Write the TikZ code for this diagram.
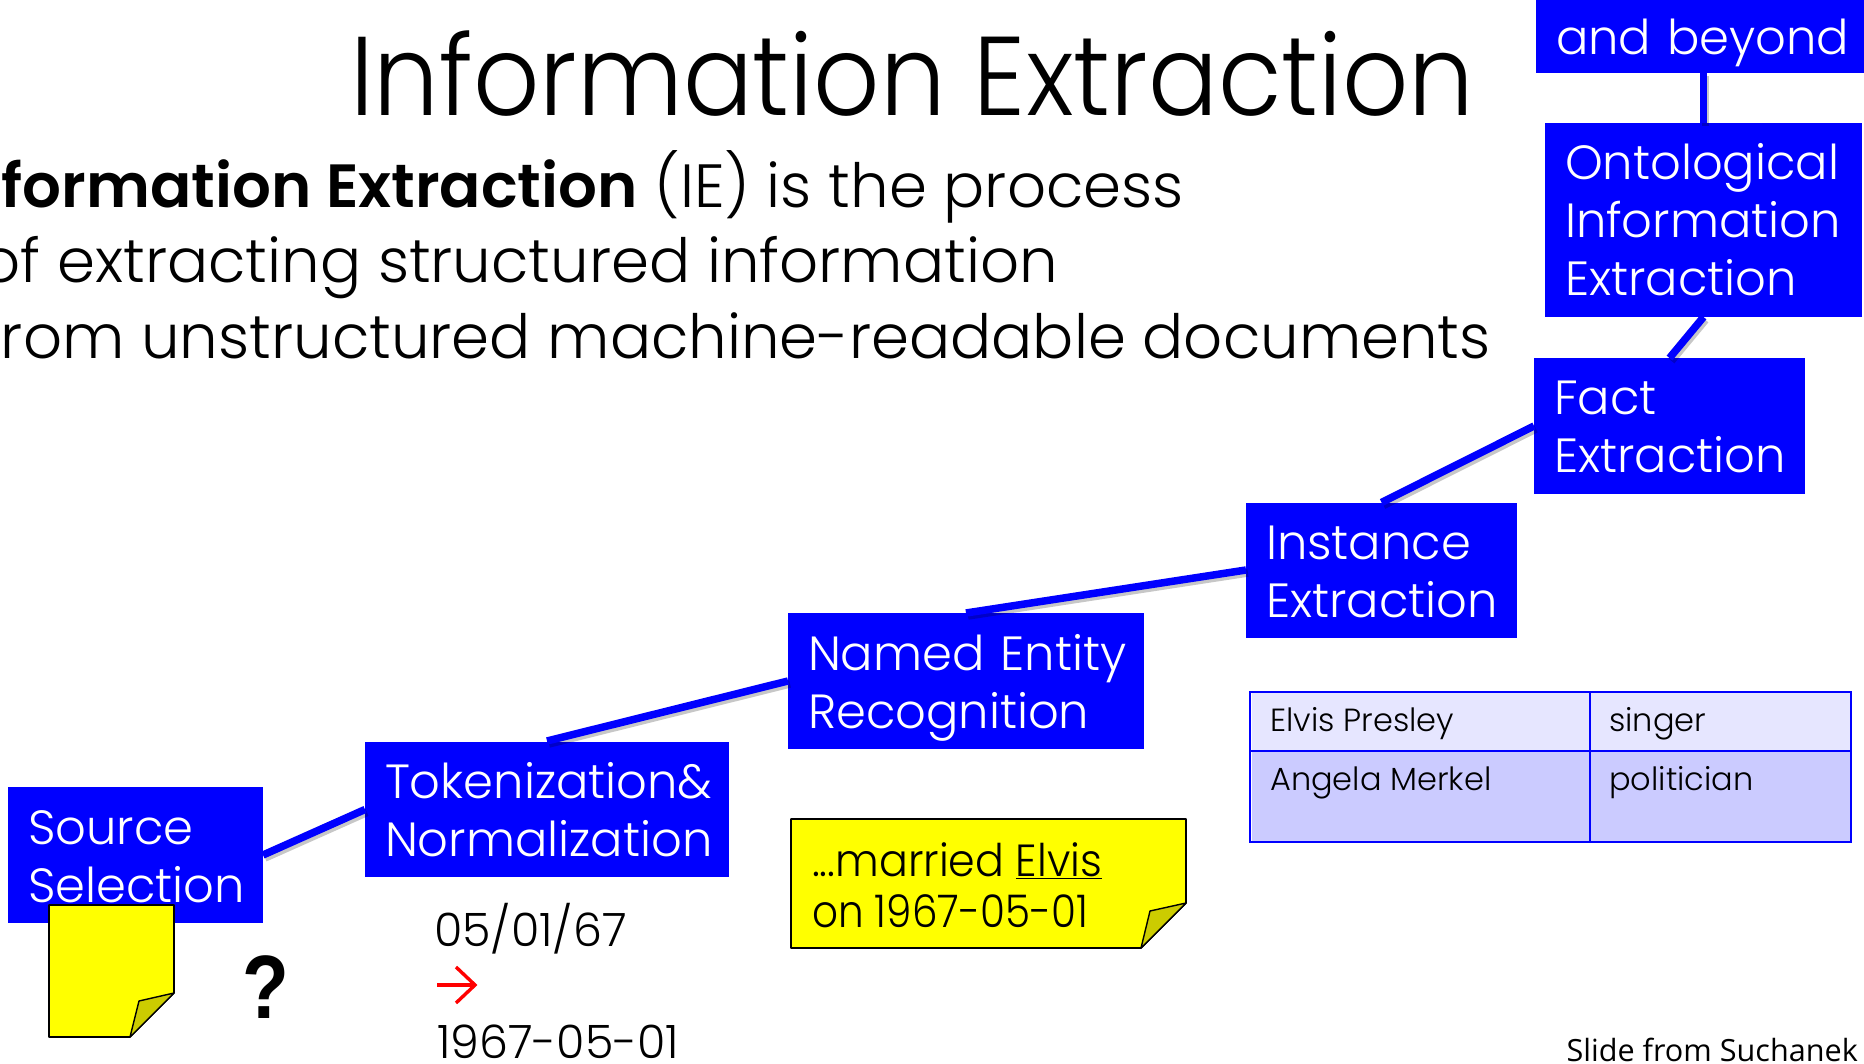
\documentclass[tikz,border=0pt]{standalone}
\usepackage{fontspec}
\setmainfont[BoldFont={Poppins SemiBold}]{Poppins Light}
\newfontfamily\headfont[FakeStretch=0.925]{Poppins Light}
\newfontfamily\notefont[FakeStretch=0.95]{Poppins Light}
\newfontfamily\notedate[FakeStretch=0.90]{Poppins Light}
\newfontfamily\slidefont{Open Sans}
\newfontfamily\qfont{Liberation Sans}
\newcommand\bl[1]{\rule{0pt}{36pt}\smash{#1}}
\definecolor{bb}{HTML}{0000FF}
\definecolor{yel}{HTML}{FFFF00}
\definecolor{fold}{HTML}{CCCC00}
\definecolor{rowa}{HTML}{E6E6FF}
\definecolor{rowb}{HTML}{CBCBFF}
\tikzset{
  x=1pt,y=-1pt,
  stagebox/.style={fill=bb,text=white,align=left,inner xsep=20pt,inner ysep=0pt,outer sep=0pt,
    font=\fontsize{48}{58}\selectfont},
  link/.style={draw=bb,line width=7.5pt,preaction={draw=black,opacity=.22,line width=7.5pt,transform canvas={shift={(2,3)}}}},
  note/.style={draw=black,line width=1.6pt,fill=yel,line join=round},
  notefold/.style={draw=black,line width=1.4pt,fill=fold,line join=round},
  headline/.style={anchor=base west,inner sep=0pt,font=\headfont\fontsize{112}{130}\selectfont},
  bodyline/.style={anchor=base east,inner sep=0pt,font=\fontsize{61}{76}\selectfont},
  dateline/.style={anchor=base west,inner sep=0pt,font=\fontsize{46}{52}\selectfont},
  noteline/.style={anchor=base west,inner sep=0pt,font=\notefont\fontsize{45}{52}\selectfont},
  cell/.style={anchor=base west,inner sep=0pt,font=\fontsize{32}{36}\selectfont},
  tabrule/.style={draw=bb,line width=2.4pt},
}
\begin{document}
\begin{tikzpicture}
\useasboundingbox (0,0) rectangle (1864,1064);
\fill[white] (0,0) rectangle (1864,1064);

\node[headline] (title) at (350,116) {Information Extraction};
\node[bodyline] (l1) at (1184,208) {\textbf{Information Extraction} (IE) is the process};
\node[bodyline] (l2) at (1058,283) {of extracting structured information};
\node[bodyline] (l3) at (1491,359) {from unstructured machine-readable documents};

\node[stagebox,minimum width=328pt,minimum height=73pt,text width=288pt] (beyond) at (1700,36.5) {\bl{and beyond}};
\node[stagebox,minimum width=317pt,minimum height=194pt,text width=277pt] (onto) at (1703.5,220) {\bl{Ontological}\\\bl{Information}\\\bl{Extraction}};
\node[stagebox,minimum width=271pt,minimum height=136pt,text width=231pt] (fact) at (1669.5,426) {\bl{Fact}\\\bl{Extraction}};
\node[stagebox,minimum width=271pt,minimum height=135pt,text width=231pt] (inst) at (1381.5,570) {\bl{Instance}\\\bl{Extraction}};
\node[stagebox,minimum width=356pt,minimum height=136pt,text width=316pt] (ner) at (966,681) {\bl{Named Entity}\\\bl{Recognition}};
\node[stagebox,minimum width=364pt,minimum height=135pt,text width=324pt] (tok) at (547,809.5) {\bl{Tokenization\&}\\\bl{Normalization}};
\node[stagebox,minimum width=255pt,minimum height=136pt,text width=215pt] (src) at (135.5,855) {\bl{Source}\\\bl{Selection}};

\draw[link] (src.east) -- (tok.west);
\draw[link] (tok.north) ++(0,-1) -- (ner.west);
\draw[link] (ner.north) -- (inst.west);
\draw[link] (inst.north) -- (fact.west);
\draw[link] (fact.north) -- (onto.south);
\draw[link] (onto.north) -- (onto.north |- beyond.south);

% source note
\draw[note] (49,905) -- (174,905) -- (174,993) -- (130,1037) -- (49,1037) -- cycle;
\draw[notefold] (174,993) -- (139,1001) -- (130,1037) -- cycle;

% question mark
\node[inner sep=0pt,xscale=.85,font=\qfont\bfseries\fontsize{90}{90}\selectfont] (q) at (266,987) {?};

% date
\node[dateline] (d1) at (434,946) {05/01/67};
\node[dateline] (d2) at (437,1058) {1967-05-01};
\coordinate (arrL) at (437,985);
\coordinate (arrR) at (475,985);
\draw[red,line width=3.4pt] (arrL) -- (arrR);
\draw[red,line width=3.4pt] (456,967) -- (arrR) -- (456,1003);

% text note
\draw[note] (791,819) -- (1186,819) -- (1186,903) -- (1141,948) -- (791,948) -- cycle;
\draw[notefold] (1186,903) -- (1150,911) -- (1141,948) -- cycle;
\node[noteline] (n1) at (812,876) {...married \underline{Elvis}};
\node[noteline,font=\notedate\fontsize{45}{52}\selectfont] (n2) at (812,927) {on 1967-05-01};

% table
\fill[rowa] (1252,692) rectangle (1852,751);
\fill[rowb] (1252,751) rectangle (1852,842);
\draw[tabrule] (1250,692) rectangle (1851,842);
\draw[tabrule] (1250,751) -- (1851,751);
\draw[tabrule] (1590,692) -- (1590,842);
\node[cell] (c1) at (1270,731) {Elvis Presley};
\node[cell] (c2) at (1609,731) {singer};
\node[cell] (c3) at (1270,790) {Angela Merkel};
\node[cell] (c4) at (1609,790) {politician};

\node[anchor=base east,inner sep=0pt,font=\slidefont\fontsize{30.6}{32}\selectfont] (credit) at (1858,1061) {Slide from Suchanek};
\end{tikzpicture}
\end{document}
